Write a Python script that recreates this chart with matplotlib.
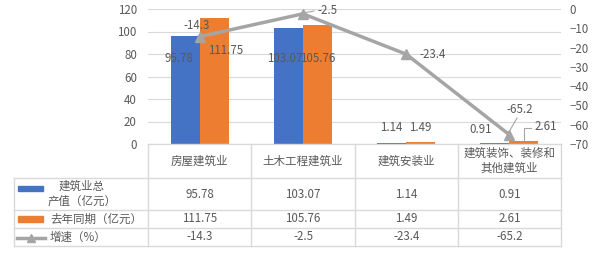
import matplotlib
matplotlib.use("Agg")
import matplotlib.pyplot as plt
from matplotlib.lines import Line2D
from matplotlib.patches import Rectangle
import numpy as np

plt.rcParams['font.family'] = ['Noto Sans CJK SC', 'DejaVu Sans']

categories = ["房屋建筑业", "土木工程建筑业", "建筑安装业", "建筑装饰、装修和\n其他建筑业"]
output_value = [95.78, 103.07, 1.14, 0.91]
last_year = [111.75, 105.76, 1.49, 2.61]
growth = [-14.3, -2.5, -23.4, -65.2]
series_names = ["建筑业总\n产值（亿元）", "去年同期（亿元）", "增速（%）"]
left_ticks = [0, 20, 40, 60, 80, 100, 120]
right_ticks = [0, -10, -20, -30, -40, -50, -60, -70]

BLUE = "#4472C4"
ORANGE = "#ED7D31"
GRAY = "#A5A5A5"
TXT = "#595959"
GRID = "#D9D9D9"
FS = 8.3

W, H = 613, 261
fig = plt.figure(figsize=(W / 100, H / 100), dpi=100)

def fx(x):
    return x / W

def fy(y):
    return 1 - y / H

x0, x1 = 148, 561
ytop, ybot = 9, 144
ax = fig.add_axes([fx(x0), fy(ybot), (x1 - x0) / W, (ybot - ytop) / H])
n = len(categories)
xs = np.arange(n)
bw = 0.28
ax.bar(xs - bw / 2, output_value, bw, color=BLUE, zorder=2)
ax.bar(xs + bw / 2, last_year, bw, color=ORANGE, zorder=2)
ax.set_xlim(-0.5, n - 0.5)
ax.set_ylim(0, 120)
ax.set_yticks(left_ticks)
ax.set_xticks([])
for s in ax.spines.values():
    s.set_visible(False)
ax.grid(axis='y', color=GRID, linewidth=0.8, zorder=0)
ax.tick_params(axis='y', length=0, labelsize=FS, labelcolor=TXT, pad=8)

ax2 = ax.twinx()
ax2.plot(xs, growth, color=GRAY, linewidth=2.5, marker='^', markersize=7, zorder=3)
ax2.set_ylim(-70, 0)
ax2.set_yticks(right_ticks)
for s in ax2.spines.values():
    s.set_visible(False)
ax2.tick_params(axis='y', length=0, labelsize=FS, labelcolor=TXT, pad=6)

# bar labels (offsets in pixels)
blue_off = [(-6, -22), (-4, -30), (0, 15), (-14, 13)]
orange_off = [(11, -32), (0, -33), (0, 15), (22, 15)]
for i in range(n):
    ax.annotate(f"{output_value[i]}", (xs[i] - bw / 2, output_value[i]), xytext=blue_off[i],
                textcoords='offset pixels', ha='center', va='center', fontsize=FS, color=TXT, zorder=5)
    ax.annotate(f"{last_year[i]}", (xs[i] + bw / 2, last_year[i]), xytext=orange_off[i],
                textcoords='offset pixels', ha='center', va='center', fontsize=FS, color=TXT, zorder=5)

growth_off = [(-3, 11), (25, 3), (27, 0), (10, 25)]
for i in range(n):
    ax2.annotate(f"{growth[i]}", (xs[i], growth[i]), xytext=growth_off[i],
                 textcoords='offset pixels', ha='center', va='center', fontsize=FS, color=TXT, zorder=5)

# leader lines
def pline(pts, color="#A6A6A6", lw=0.8):
    xs_ = [fx(p[0]) for p in pts]
    ys_ = [fy(p[1]) for p in pts]
    fig.add_artist(Line2D(xs_, ys_, transform=fig.transFigure, color=color, linewidth=lw))

pline([(306, 12.5), (314, 11)])
pline([(509, 132), (517, 118)])
pline([(524, 141), (524, 128), (531, 128)])

# table grid
rows_y = [144, 178, 210, 228, 246]
col_x = [14, 148, 251, 355, 458, 561]
for i, y in enumerate(rows_y):
    xa = 148 if i == 0 else 14
    pline([(xa, y), (561, y)], color=GRID, lw=1)
for j, x in enumerate(col_x):
    ya = 178 if j == 0 else 144
    pline([(x, ya), (x, 246)], color=GRID, lw=1)

for j in range(n):
    cx = (col_x[j + 1] + col_x[j + 2]) / 2
    fig.text(fx(cx), fy((rows_y[0] + rows_y[1]) / 2), categories[j], ha='center', va='center',
             fontsize=FS, color=TXT, linespacing=1.2)
    fig.text(fx(cx), fy((rows_y[1] + rows_y[2]) / 2), f"{output_value[j]}", ha='center', va='center', fontsize=FS, color=TXT)
    fig.text(fx(cx), fy((rows_y[2] + rows_y[3]) / 2), f"{last_year[j]}", ha='center', va='center', fontsize=FS, color=TXT)
    fig.text(fx(cx), fy((rows_y[3] + rows_y[4]) / 2), f"{growth[j]}", ha='center', va='center', fontsize=FS, color=TXT)

# legend keys
fig.add_artist(Rectangle((fx(18), fy(191)), 25 / W, 5 / H, transform=fig.transFigure, color=BLUE))
fig.add_artist(Rectangle((fx(18), fy(222)), 25 / W, 6 / H, transform=fig.transFigure, color=ORANGE))
pline([(17, 238), (45, 238)], color=GRAY, lw=2.5)
fig.add_artist(Line2D([fx(31)], [fy(238)], transform=fig.transFigure, color=GRAY, marker='^',
                      markersize=6, linestyle='none'))

fig.text(fx(82), fy(194), series_names[0], ha='center', va='center', fontsize=FS, color=TXT, linespacing=1.2)
fig.text(fx(50), fy(219), series_names[1], ha='left', va='center', fontsize=FS, color=TXT)
fig.text(fx(50), fy(237), series_names[2], ha='left', va='center', fontsize=FS, color=TXT)

fig.savefig("out.png", dpi=100, facecolor='white')
